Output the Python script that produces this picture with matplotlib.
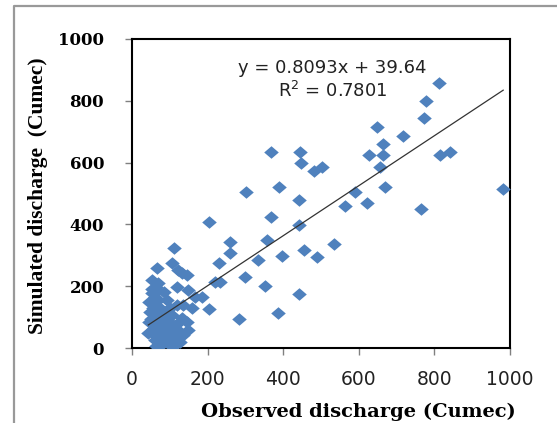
import numpy as np
import matplotlib.pyplot as plt
from matplotlib.lines import Line2D

# observed / simulated discharge (Cumec)
observed = [812, 778, 773, 718, 647, 663, 628, 665, 656, 669, 815, 840, 982, 764,
            590, 563, 623, 369, 444, 447, 482, 502, 301, 389, 442, 369, 441, 204,
            259, 259, 356, 396, 334, 455, 489, 535, 230, 300, 352, 441, 385, 284,
            220, 233, 205, 184,
            112, 65, 105, 123, 133, 145, 52, 63, 118, 149, 52, 45, 70, 92, 167,
            136, 158, 48, 78, 105, 131, 145, 123, 45, 70, 149, 123, 43, 87, 61,
            114, 70, 96, 136, 55, 60, 80, 95, 75, 100, 55, 65, 85, 110, 60, 75,
            90, 50, 100, 85, 70, 120,
            58, 68, 82, 92, 104, 112, 60, 72, 88, 98, 108, 52, 66, 78, 118, 128,
            64, 76, 100, 110]
simulated = [856, 799, 743, 687, 714, 659, 625, 625, 587, 522, 625, 633, 515, 449,
             506, 460, 470, 633, 633, 598, 574, 587, 506, 522, 479, 423, 398, 409,
             342, 306, 349, 298, 285, 317, 293, 337, 276, 229, 202, 175, 112, 94,
             215, 213, 125, 165,
             323, 258, 276, 252, 242, 235, 220, 198, 198, 188, 177, 150, 155, 155,
             166, 139, 128, 118, 112, 107, 96, 85, 80, 85, 69, 58, 58, 47, 37, 26,
             26, 4, 15, 42, 130, 100, 90, 70, 45, 50, 60, 35, 20, 60, 165, 130,
             120, 95, 130, 180, 210, 140,
             75, 85, 55, 30, 40, 10, 140, 115, 100, 85, 75, 190, 185, 10, 45, 20,
             5, 25, 10, 5]

# trendline shown on the chart
slope = 0.8093
intercept = 39.64
eq_text = "y = 0.8093x + 39.64"
r2_text = "R$^2$ = 0.7801"

ticks = [0, 200, 400, 600, 800, 1000]

fig = plt.figure(figsize=(5.57, 4.23), dpi=100)
ax = fig.add_axes([132 / 557, 75 / 423, 378 / 557, 309 / 423])

diamond = [(-1, 0), (0, 0.86), (1, 0), (0, -0.86), (-1, 0)]
ax.plot(observed, simulated, linestyle="none", marker=diamond, markersize=10.5,
        color="#4F81BD", markeredgewidth=0, zorder=3)

xfit = np.array([min(observed), max(observed)])
ax.plot(xfit, slope * xfit + intercept, color="#333333", lw=0.9, zorder=4)

ax.set_xlim(0, 1000)
ax.set_ylim(0, 1000)
ax.set_xticks(ticks)
ax.set_yticks(ticks)
ax.set_xticklabels([str(t) for t in ticks], fontsize=13.5, family="DejaVu Sans",
                   color="#222222")
ax.set_yticklabels([str(t) for t in ticks], fontsize=12, family="DejaVu Serif",
                   fontweight="bold")
ax.tick_params(axis="both", direction="out", length=5, width=1, color="#808080")
ax.tick_params(axis="x", pad=11)
ax.tick_params(axis="y", pad=15)
for sp in ax.spines.values():
    sp.set_linewidth(1.5)
    sp.set_color("black")

ax.text(0.53, 0.906, eq_text, transform=ax.transAxes, ha="center", va="center",
        fontsize=13, family="DejaVu Sans", color="#222222")
ax.text(0.53, 0.832, r2_text, transform=ax.transAxes, ha="center", va="center",
        fontsize=13, family="DejaVu Sans", color="#222222")

fig.text(38 / 557, 1 - 196 / 423, "Simulated discharge  (Cumec)", rotation=90,
         ha="center", va="center", fontsize=15.5, family="Liberation Serif",
         fontweight="bold")
fig.text(358 / 557, 1 - 412 / 423, "Observed discharge (Cumec)", ha="center",
         va="center", fontsize=14, family="DejaVu Serif", fontweight="bold")

# outer chart border
fig.add_artist(Line2D([14 / 557, 14 / 557, 1], [0, 1 - 6 / 423, 1 - 6 / 423],
                      transform=fig.transFigure, color="#999999", lw=1.6))

fig.savefig("out.png", dpi=100)
